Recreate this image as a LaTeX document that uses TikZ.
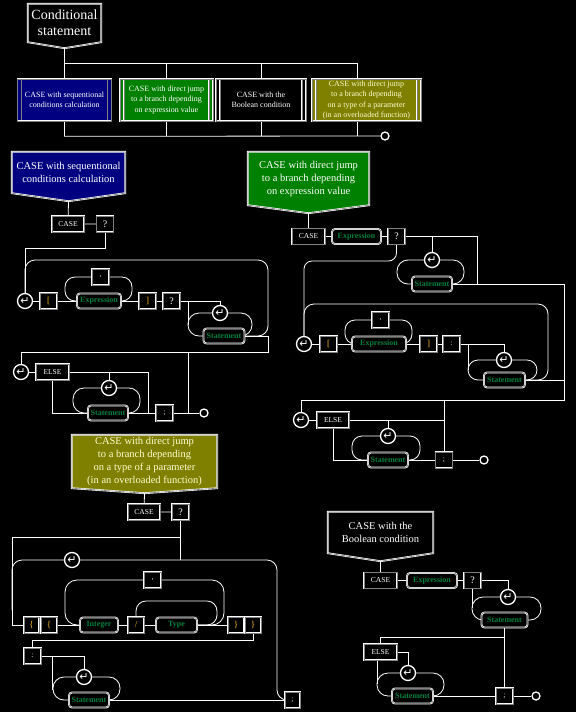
\documentclass[tikz,border=0pt]{standalone}
\usepackage{fontspec}
\setmainfont{Liberation Serif}
\newfontfamily\symfont{DejaVu Sans}
\pgfdeclarelayer{back}
\pgfdeclarelayer{wires}
\pgfsetlayers{back,wires,main}
\definecolor{navyb}{HTML}{000080}
\definecolor{greenb}{HTML}{008000}
\definecolor{oliveb}{HTML}{808000}
\definecolor{gtext}{HTML}{00803F}
\definecolor{gold}{HTML}{FFC020}
\definecolor{paletext}{HTML}{FFFFD0}
\begin{document}
\begin{tikzpicture}[x=1pt, y=-1pt,
  wire/.style={white, line width=0.8pt},
  border/.style={draw=white, double=gray, double distance=0.6pt, line width=0.6pt},
  term/.style={border, fill=black, text=white, inner sep=0pt, minimum height=16pt, minimum width=17pt, font=\fontsize{7.5}{8}\selectfont},
  nterm/.style={term, rounded corners=3pt, text=gtext, minimum height=15pt, font=\fontsize{8}{8}\selectfont\bfseries},
  brk/.style={term, text=gold, font=\fontsize{9}{9}\selectfont},
  qs/.style={font=\fontsize{10}{10}\selectfont},
  loopc/.style={circle, draw=white, line width=1.3pt, fill=black, minimum size=15pt, inner sep=0pt, text=white, font=\symfont\fontsize{11}{11}\selectfont},
  endc/.style={circle, draw=white, line width=1.3pt, fill=black, minimum size=8pt, inner sep=0pt},
  headn/.style={text=white, align=center, inner sep=0pt, font=\fontsize{10.5}{13}\selectfont},
  subbox/.style={border, text=white, align=center, inner sep=0pt, minimum height=42pt, font=\fontsize{8}{10.5}\selectfont,
    path picture={\draw[white, double=gray, double distance=0.4pt, line width=0.5pt]
      ([xshift=4pt]path picture bounding box.north west) -- ([xshift=4pt]path picture bounding box.south west)
      ([xshift=-4pt]path picture bounding box.north east) -- ([xshift=-4pt]path picture bounding box.south east);}}]
\useasboundingbox (0,0) rectangle (576,712);

% overview
\node[headn, font=\fontsize{14}{16}\selectfont, minimum width=73pt, minimum height=38pt] (title) at (64.5,23) {Conditional\\statement};
\node[subbox, fill=navyb, minimum width=94pt] (kA) at (64.5,100) {CASE with sequentional\\conditions calculation};
\node[subbox, fill=greenb, minimum width=93pt] (kB) at (166.5,100) {CASE with direct jump\\to a branch depending\\on expression value};
\node[subbox, fill=black, minimum width=90pt] (kC) at (261,100) {CASE with the\\Boolean condition};
\node[subbox, fill=oliveb, text=paletext, minimum width=109pt] (kD) at (366.5,100) {CASE with direct jump\\to a branch depending\\on a type of a parameter\\(in an overloaded function)};
\node[endc] (eT) at (385,136) {};

% sequentional
\node[headn, minimum width=113pt, minimum height=41pt] (h1) at (68.5,172.5) {CASE with sequentional\\conditions calculation};
\node[term, minimum width=32pt] (c1) at (68,224) {CASE};
\node[term, qs] (q1) at (105,224) {?};
\node[loopc] (r1) at (25,301) {↵};
\node[brk] (lb1) at (48.5,301) {[};
\node[nterm, minimum width=44pt] (x1) at (99,301) {Expression};
\node[term] (cm1) at (100.5,277) {,};
\node[brk] (rb1) at (147.5,301) {]};
\node[term, qs] (q1b) at (171.5,301) {?};
\node[loopc] (r1b) at (220,313) {↵};
\node[nterm, minimum width=41pt] (s1) at (224,336) {Statement};
\node[loopc] (r1c) at (21,372) {↵};
\node[term, minimum width=33pt] (e1) at (52.5,372) {ELSE};
\node[loopc] (r1d) at (109,388) {↵};
\node[nterm, minimum width=40pt] (s1b) at (108,413) {Statement};
\node[term] (sc1) at (164.5,413) {;};
\node[endc] (z1) at (204,413) {};

% expression value
\node[headn, minimum width=121pt, minimum height=53pt] (h2) at (308.5,178.5) {CASE with direct jump\\to a branch depending\\on expression value};
\node[term, minimum width=33pt] (c2) at (308.5,236.5) {CASE};
\node[nterm, minimum width=49pt] (x2) at (356.5,236.5) {Expression};
\node[term, qs] (q2) at (396.5,236.5) {?};
\node[loopc] (r2a) at (432,260) {↵};
\node[nterm, minimum width=40pt] (s2a) at (432,284) {Statement};
\node[loopc] (r2b) at (304,344) {↵};
\node[brk] (lb2) at (328.5,344) {[};
\node[nterm, minimum width=54pt] (x2b) at (379,344) {Expression};
\node[term] (cm2) at (380.5,320) {,};
\node[brk] (rb2) at (428.5,344) {]};
\node[term] (cl2) at (451.5,344) {:};
\node[loopc] (r2c) at (504,360) {↵};
\node[nterm, minimum width=41pt] (s2b) at (504.5,380) {Statement};
\node[loopc] (r2d) at (301,420) {↵};
\node[term, minimum width=32pt] (e2) at (333,420) {ELSE};
\node[loopc] (r2e) at (388,436) {↵};
\node[nterm, minimum width=40pt] (s2c) at (388,460) {Statement};
\node[term] (sc2) at (444,460) {;};
\node[endc] (z2) at (484,460) {};

% parameter type
\node[headn, text=paletext, minimum width=145pt, minimum height=53pt] (h3) at (144.5,461.5) {CASE with direct jump\\to a branch depending\\on a type of a parameter\\(in an overloaded function)};
\node[term, minimum width=32pt] (c3) at (144,512) {CASE};
\node[term, qs] (q3) at (180.5,512) {?};
\node[loopc] (r3) at (72,560) {↵};
\node[brk, minimum width=15pt] (lc3a) at (31.5,625) {\{};
\node[brk, minimum width=16pt] (lc3b) at (49,625) {\{};
\node[nterm, minimum width=38pt] (n3) at (99,625) {Integer};
\node[brk, minimum width=16pt] (sl3) at (136,625) {/};
\node[nterm, minimum width=41pt] (t3) at (176.5,625) {Type};
\node[brk, minimum width=16pt] (rc3a) at (236,625) {\}};
\node[brk, minimum width=16pt] (rc3b) at (253,625) {\}};
\node[term] (cm3) at (152.5,580) {,};
\node[term] (cl3) at (32.5,656) {:};
\node[loopc] (r3b) at (84,677) {↵};
\node[nterm, minimum width=40pt] (s3) at (89,700) {Statement};
\node[term, minimum width=15pt] (sc3) at (292.5,700) {;};

% boolean
\node[headn, minimum width=105pt, minimum height=41pt] (h4) at (380.5,532.5) {CASE with the\\Boolean condition};
\node[term, minimum width=33pt] (c4) at (380.5,580.5) {CASE};
\node[nterm, minimum width=50pt] (x4) at (432,580.5) {Expression};
\node[term, qs] (q4) at (472.5,580.5) {?};
\node[loopc] (r4a) at (508,597) {↵};
\node[nterm, minimum width=46pt] (s4a) at (504.5,620) {Statement};
\node[term, minimum width=33pt] (e4) at (380.5,652) {ELSE};
\node[loopc] (r4b) at (408,673) {↵};
\node[nterm, minimum width=41pt] (s4b) at (412.5,696) {Statement};
\node[term] (sc4) at (504.5,696) {;};
\node[endc] (z4) at (536,696) {};

\begin{pgfonlayer}{back}
\fill[black] (0,0) rectangle (576,712);
\draw[border, fill=black] (title.north west) -- (title.north east) -- (title.south east) -- ([yshift=-6pt]title.south) -- (title.south west) -- cycle;
\draw[border, fill=navyb] (h1.north west) -- (h1.north east) -- (h1.south east) -- ([yshift=-8pt]h1.south) -- (h1.south west) -- cycle;
\draw[border, fill=greenb] (h2.north west) -- (h2.north east) -- (h2.south east) -- ([yshift=-8pt]h2.south) -- (h2.south west) -- cycle;
\draw[border, fill=oliveb] (h3.north west) -- (h3.north east) -- (h3.south east) -- ([yshift=-5pt]h3.south) -- (h3.south west) -- cycle;
\draw[border, fill=black] (h4.north west) -- (h4.north east) -- (h4.south east) -- ([yshift=-8pt]h4.south) -- (h4.south west) -- cycle;
\end{pgfonlayer}

\begin{pgfonlayer}{wires}
% overview
\draw[wire] ([yshift=-6pt]title.south) -- (kA);
\draw[wire] (kA.north) -- ++(0,-15) -| (kB);
\draw[wire] (kA.north) ++(0,-15) -| ([xshift=-9pt]kD.north);
\draw[wire] (kC.north) -- ++(0,-15);
\draw[wire] (kA.south) -- ++(0,15) -- (eT);
\draw[wire] (kB.south) -- ++(0,15);
\draw[wire] (kC.south) -- ++(0,15);
\draw[wire] ([xshift=-9pt]kD.south) -- ++(0,15);
% sequentional
\draw[wire] ([yshift=-8pt]h1.south) -- (c1) -- (q1);
\draw[wire] (q1) |- (25,248) -- (r1);
\draw[wire, rounded corners=10pt] (s1) -| (268,260) -| (r1);
\draw[wire] (r1) -- (lb1) -- (x1) -- (rb1) -- (q1b);
\draw[wire, rounded corners=10pt] (x1) -| (65,277) -- (cm1);
\draw[wire, rounded corners=10pt] (cm1) -| (132,301) -- (x1);
\draw[wire] (q1b) -| (r1b);
\draw[wire, rounded corners=11pt] (r1b) -| (188,336) -- (s1);
\draw[wire] (188,301) -- (188,325);
\draw[wire, rounded corners=11pt] (r1b) -| (252,336) -- (s1);
\draw[wire] (s1) -| (268,352) -| (r1c);
\draw[wire] (188,352) -- (188,413);
\draw[wire] (r1c) -- (e1) -| (148,413);
\draw[wire] (109,372) -- (r1d);
\draw[wire, rounded corners=11pt] (r1d) -| (73,413) -- (s1b);
\draw[wire, rounded corners=11pt] (r1d) -| (140,413) -- (s1b);
\draw[wire] (e1) |- (s1b);
\draw[wire] (s1b) -- (sc1) -- (z1);
% expression value
\draw[wire] ([yshift=-8pt]h2.south) -- (c2) -- (x2) -- (q2);
\draw[wire] (q2) -| (477,284) -| (564,400) -| (r2d);
\draw[wire] (432,236.5) -- (r2a);
\draw[wire, rounded corners=11pt] (r2a) -| (397,284) -- (s2a);
\draw[wire, rounded corners=11pt] (r2a) -| (464,284) -- (s2a);
\draw[wire] (s2a) -- (477,284);
\draw[wire, rounded corners=8pt] (q2) |- (304,261) -- (r2b);
\draw[wire, rounded corners=10pt] (s2b) -| (548,304) -| (r2b);
\draw[wire] (r2b) -- (lb2) -- (x2b) -- (rb2) -- (cl2);
\draw[wire, rounded corners=10pt] (x2b) -| (345,320) -- (cm2);
\draw[wire, rounded corners=10pt] (cm2) -| (412,344) -- (x2b);
\draw[wire] (cl2) -| (r2c);
\draw[wire] (468,344) -- (468,370);
\draw[wire, rounded corners=10pt] (r2c) -| (468,380) -- (s2b);
\draw[wire, rounded corners=10pt] (r2c) -| (537,380) -- (s2b);
\draw[wire] (s2b) -- (564,380);
\draw[wire] (444,400) -- (sc2);
\draw[wire] (r2d) -- (e2) -- (444,420);
\draw[wire] (388,420) -- (r2e);
\draw[wire, rounded corners=10pt] (r2e) -| (352,460) -- (s2c);
\draw[wire, rounded corners=10pt] (r2e) -| (420,460) -- (s2c);
\draw[wire] (e2) |- (s2c);
\draw[wire] (s2c) -- (sc2) -- (z2);
% parameter type
\draw[wire] ([yshift=-5pt]h3.south) -- (c3) -- (q3);
\draw[wire] (q3) |- (12,537) |- (lc3a);
\draw[wire] (180.5,537) -- (180.5,560);
\draw[wire, rounded corners=10pt] (sc3) -| (277,560) -| (12,610);
\draw[wire] (lc3a) -- (lc3b) -- (n3) -- (sl3) -- (t3) -- (rc3a) -- (rc3b);
\draw[wire, rounded corners=12pt] (n3) -| (65,580) -- (cm3);
\draw[wire, rounded corners=12pt] (cm3) -| (224,625) -- (t3);
\draw[wire, rounded corners=10pt] (sl3) |- (217,601) -- (217,625) -- (t3);
\draw[wire] (rc3b) |- (32.5,640) -- (cl3);
\draw[wire] (cl3) -| (r3b);
\draw[wire, rounded corners=11pt] (r3b) -| (53,700) -- (s3);
\draw[wire, rounded corners=11pt] (r3b) -| (120,700) -- (s3);
\draw[wire] (52,656) -- (52,690);
\draw[wire] (s3) -- (sc3);
% boolean
\draw[wire] ([yshift=-8pt]h4.south) -- (c4) -- (x4) -- (q4);
\draw[wire] (q4) -| (r4a);
\draw[wire] (q4) -- (472.5,608);
\draw[wire, rounded corners=11pt] (r4a) -| (472,620) -- (s4a);
\draw[wire, rounded corners=11pt] (r4a) -| (541,620) -- (s4a);
\draw[wire] (s4a) |- (380.5,637) -- (e4);
\draw[wire] (504.5,637) -- (sc4);
\draw[wire] (e4) -| (r4b);
\draw[wire] (377,652) -- (377,684);
\draw[wire, rounded corners=11pt] (r4b) -| (377,696) -- (s4b);
\draw[wire, rounded corners=11pt] (r4b) -| (444,696) -- (s4b);
\draw[wire] (s4b) -- (sc4) -- (z4);
\end{pgfonlayer}
\end{tikzpicture}
\end{document}
